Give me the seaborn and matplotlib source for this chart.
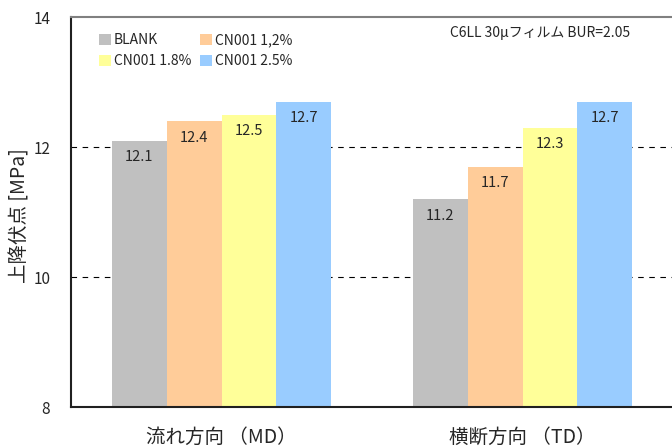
import matplotlib
matplotlib.use("Agg")
import matplotlib.pyplot as plt
import matplotlib.ticker as ticker
import pandas as pd
import seaborn as sns

directions = ["流れ方向 （MD）", "横断方向 （TD）"]
samples = ["BLANK", "CN001 1,2%", "CN001 1.8%", "CN001 2.5%"]
values_md = [12.1, 12.4, 12.5, 12.7]
values_td = [11.2, 11.7, 12.3, 12.7]
colors = ["#C0C0C0", "#FFCC99", "#FFFF99", "#99CCFF"]

df = pd.DataFrame({
    "direction": [directions[0]] * 4 + [directions[1]] * 4,
    "sample": samples * 2,
    "value": values_md + values_td,
})

sns.set_style("white")
plt.rcParams["font.family"] = ["Noto Sans CJK JP", "DejaVu Sans"]

fig = plt.figure(figsize=(6.72, 4.48), dpi=100)
ax = fig.add_axes([0.1057, 0.0915, 0.8958, 0.8705])

sns.barplot(data=df, x="direction", y="value", hue="sample", hue_order=samples,
            palette=colors, width=0.73, gap=0, saturation=1, ax=ax,
            edgecolor="none", linewidth=0)

for container in ax.containers:
    ax.bar_label(container, fmt="%.1f", padding=-17, fontsize=10.5)

ax.set_ylim(8, 14)
ax.set_xlim(-0.5, 1.5)
ax.yaxis.set_major_locator(ticker.MultipleLocator(2))
ax.yaxis.set_major_formatter(ticker.FormatStrFormatter("%d"))
for y in [10, 12]:
    ax.axhline(y, color="black", linestyle=(0, (5, 5)), linewidth=0.8, zorder=0)

ax.set_xlabel("")
ax.set_ylabel("上降伏点 [MPa]", fontsize=14)
ax.yaxis.set_label_coords(-0.068, 0.49)
ax.tick_params(axis="y", length=0, labelsize=11, pad=15)
ax.tick_params(axis="x", length=0, labelsize=14, pad=14)
ax.set_xticks([0.5], minor=True)
ax.tick_params(axis="x", which="minor", direction="in", length=5, width=0.8, color="#404040")

for s in ["left", "bottom"]:
    ax.spines[s].set_color("#202020")
    ax.spines[s].set_linewidth(1.5)
ax.spines["top"].set_color("#808080")
ax.spines["top"].set_linewidth(1.5)
ax.spines["right"].set_visible(False)

handles, labels = ax.get_legend_handles_labels()
order = [0, 2, 1, 3]
ax.legend([handles[i] for i in order], [labels[i] for i in order], ncol=2,
          frameon=False, loc="upper left", bbox_to_anchor=(0.025, 0.99),
          fontsize=10, handlelength=0.9, handleheight=0.9, handletextpad=0.2,
          columnspacing=0.6, labelspacing=0.5)

ax.text(0.928, 0.96, "C6LL 30μフィルム BUR=2.05", transform=ax.transAxes,
        ha="right", va="center", fontsize=10)

fig.savefig("out.png", dpi=100)
